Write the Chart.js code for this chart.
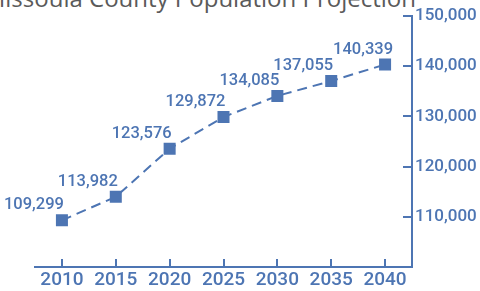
<!DOCTYPE html>
<html>
<head>
<meta charset="utf-8">
<script src="https://cdn.jsdelivr.net/npm/chart.js@4"></script>
<style>
  body { margin: 0; background: #fff; overflow: hidden; }
  #wrap { position: relative; width: 480px; height: 291px; }
  #title { position: absolute; top: -14px; right: 64px; font: 400 24px/24px "Open Sans", sans-serif; color: #5a5a5a; white-space: nowrap; }
  canvas { position: absolute; left: 0; top: 0; }
</style>
</head>
<body>
<div id="wrap">
  <div id="title">Missoula County Population Projection</div>
  <canvas id="chart" width="480" height="291"></canvas>
</div>
<script>
// data
const years = ['2010', '2015', '2020', '2025', '2030', '2035', '2040'];
const population = [109299, 113982, 123576, 129872, 134085, 137055, 140339];
const yTicks = [110000, 120000, 130000, 140000, 150000];

const BLUE = '#4d75b3';
const fmt = v => v.toLocaleString('en-US');

// small inward tick marks on both axes
const innerTicks = {
  id: 'innerTicks',
  afterDraw(chart) {
    const { ctx, scales: { x, y } } = chart;
    ctx.save();
    ctx.strokeStyle = BLUE;
    ctx.lineWidth = 2;
    ctx.beginPath();
    years.forEach((_, i) => {
      const px = Math.round(x.getPixelForValue(i));
      ctx.moveTo(px, y.bottom);
      ctx.lineTo(px, y.bottom - 8);
    });
    yTicks.forEach(v => {
      const py = Math.round(y.getPixelForValue(v));
      ctx.moveTo(x.right, py);
      ctx.lineTo(x.right - 9, py);
    });
    ctx.stroke();
    ctx.restore();
  }
};

// value labels above the markers
const valueLabels = {
  id: 'valueLabels',
  afterDatasetsDraw(chart) {
    const { ctx } = chart;
    const meta = chart.getDatasetMeta(0);
    ctx.save();
    ctx.fillStyle = BLUE;
    ctx.font = '500 16.5px Roboto, sans-serif';
    ctx.textAlign = 'right';
    ctx.textBaseline = 'middle';
    meta.data.forEach((pt, i) => {
      const dx = i === meta.data.length - 1 ? 8 : 2;
      ctx.fillText(fmt(population[i]), pt.x + dx, pt.y - 15);
    });
    ctx.restore();
  }
};

new Chart(document.getElementById('chart'), {
  type: 'line',
  data: {
    labels: years,
    datasets: [{
      data: population,
      borderColor: BLUE,
      borderWidth: 2,
      borderDash: [10, 6],
      fill: false,
      tension: 0,
      pointStyle: 'rect',
      pointRadius: 8.5,
      pointBackgroundColor: BLUE,
      pointBorderColor: BLUE,
      pointBorderWidth: 0
    }]
  },
  options: {
    responsive: false,
    animation: false,
    layout: { padding: { left: 35, top: 16, right: 0, bottom: 0 } },
    plugins: { legend: { display: false }, tooltip: { enabled: false } },
    scales: {
      x: {
        offset: true,
        grid: { display: true, drawOnChartArea: false, drawTicks: false },
        border: { display: true, color: BLUE, width: 2 },
        ticks: { color: BLUE, padding: 2, font: { family: 'Roboto', size: 19, weight: '500' }, maxRotation: 0 },
        afterFit: s => { s.height = 24; }
      },
      y: {
        position: 'right',
        min: 100000,
        max: 150000,
        afterBuildTicks: s => { s.ticks = [100000].concat(yTicks).map(v => ({ value: v })); },
        grid: { display: true, drawOnChartArea: false, drawTicks: false },
        border: { display: true, color: BLUE, width: 2 },
        ticks: {
          color: BLUE,
          padding: 3,
          font: { family: 'Roboto', size: 17, weight: '500' },
          callback: v => v === 100000 ? '' : fmt(v)
        },
        afterFit: s => { s.width = 68; }
      }
    }
  },
  plugins: [innerTicks, valueLabels]
});
</script>
</body>
</html>
